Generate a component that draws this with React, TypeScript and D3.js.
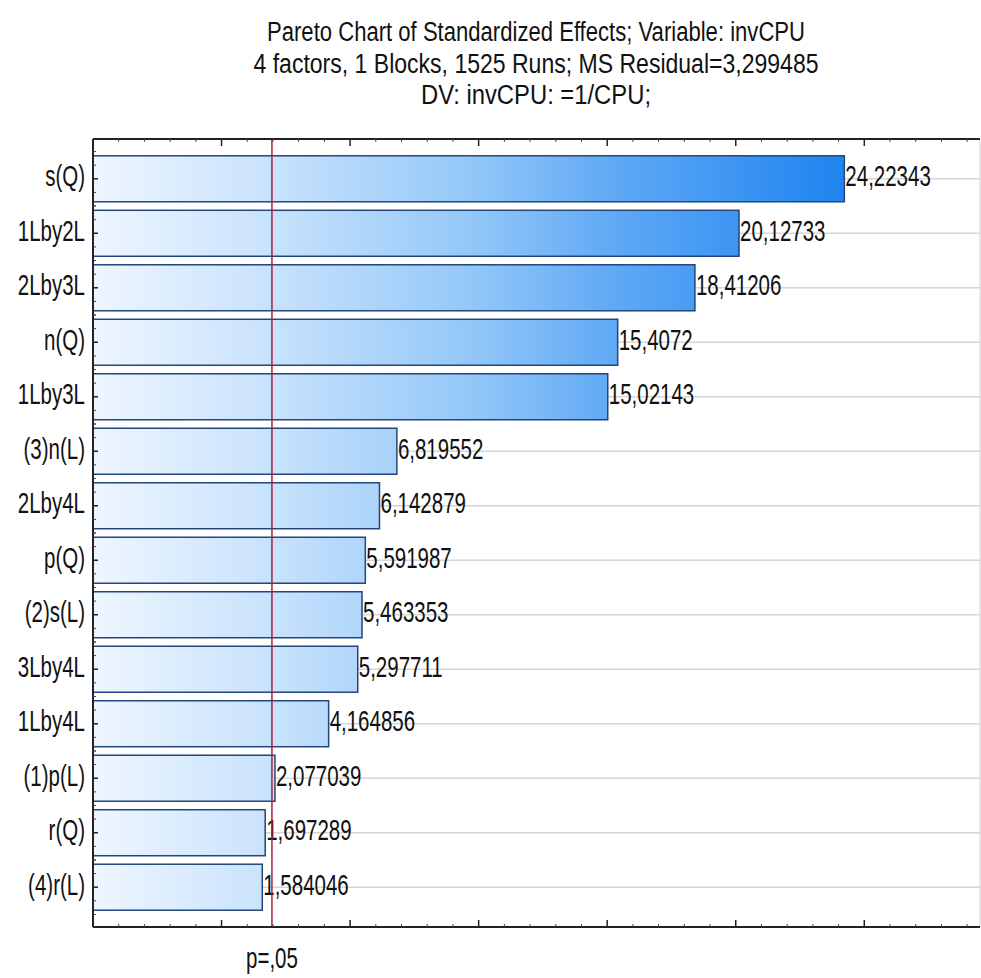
import React from "react";
import * as d3 from "d3";

const titleLines = [
  "Pareto Chart of Standardized Effects; Variable: invCPU",
  "4 factors, 1 Blocks, 1525 Runs; MS Residual=3,299485",
  "DV: invCPU: =1/CPU;",
];
const categories = [
  "s(Q)", "1Lby2L", "2Lby3L", "n(Q)", "1Lby3L", "(3)n(L)", "2Lby4L",
  "p(Q)", "(2)s(L)", "3Lby4L", "1Lby4L", "(1)p(L)", "r(Q)", "(4)r(L)",
];
const values = [
  24.22343, 20.12733, 18.41206, 15.4072, 15.02143, 6.819552, 6.142879,
  5.591987, 5.463353, 5.297711, 4.164856, 2.077039, 1.697289, 1.584046,
];
const valueLabels = [
  "24,22343", "20,12733", "18,41206", "15,4072", "15,02143", "6,819552", "6,142879",
  "5,591987", "5,463353", "5,297711", "4,164856", "2,077039", "1,697289", "1,584046",
];
const xDomain = [-5, 29.5];
const pCritical = 1.96;
const pLabel = "p=,05";

const W = 981, H = 978;
const L = 93, R = 980, T = 139, B = 927;
const FONT = "'Liberation Sans', Arial, sans-serif";
const SY = 1.45;

export default function App() {
  const x = d3.scaleLinear().domain(xDomain).range([L, R]);
  const y = d3.scaleBand().domain(categories).range([T, B]).paddingInner(0.156).paddingOuter(0.308);
  const step = y.step();
  const bw = y.bandwidth();

  const majorX = d3.range(0, 30, 5);
  const minorX = d3.range(-4, 30, 1).filter((v) => v % 5 !== 0);
  const minorY: number[] = [];
  categories.forEach((c) => {
    const cy = y(c)! + bw / 2;
    [-0.5, -0.25, 0.25, 0.5].forEach((f) => minorY.push(cy + f * step));
  });

  const textT = (tx: number, ty: number) => `translate(${tx},${ty}) scale(1,${SY})`;

  return (
    <svg width={W} height={H} style={{ position: "absolute", left: 0, top: 0, background: "#fff" }}>
      <defs>
        <linearGradient id="barGrad" gradientUnits="userSpaceOnUse" x1={L} y1={0} x2={x(values[0])} y2={0}>
          <stop offset="0" stopColor="#eef6ff" />
          <stop offset="0.25" stopColor="#c6e1fc" />
          <stop offset="0.5" stopColor="#94c8f8" />
          <stop offset="0.7" stopColor="#5ea8f5" />
          <stop offset="1" stopColor="#1e84f0" />
        </linearGradient>
      </defs>
      {titleLines.map((t, i) => (
        <text key={i} x={0} y={0} transform={`translate(536,${41 + i * 31.5}) scale(1,1.42)`}
          textAnchor="middle" fontFamily={FONT} fontSize={19} fill="#111"
          textLength={[538, 565, 230][i]} lengthAdjust="spacingAndGlyphs">{t}</text>
      ))}
      {categories.map((c) => (
        <line key={c} x1={L} x2={R} y1={y(c)! + bw / 2} y2={y(c)! + bw / 2} stroke="#d6d6d6" strokeWidth={1.5} />
      ))}
      {categories.map((c, i) => (
        <rect key={c} x={x(xDomain[0])} y={y(c)!} width={x(values[i]) - x(xDomain[0])} height={bw}
          fill="url(#barGrad)" stroke="#23467c" strokeWidth={1.5} />
      ))}
      {categories.map((c, i) => (
        <text key={c} x={0} y={0} transform={textT(x(values[i]) + 1, y(c)! + bw / 2 + 7.5)}
          fontFamily={FONT} fontSize={20.5} fill="#111">{valueLabels[i]}</text>
      ))}
      {categories.map((c) => (
        <text key={c} x={0} y={0} transform={textT(85, y(c)! + bw / 2 + 7.5)} textAnchor="end"
          fontFamily={FONT} fontSize={20.5} fill="#111">{c}</text>
      ))}
      <line x1={x(pCritical)} x2={x(pCritical)} y1={T} y2={B} stroke="#a8223a" strokeWidth={1.5} />
      <text x={0} y={0} transform={textT(x(pCritical), 968)} textAnchor="middle" fontFamily={FONT}
        fontSize={20.5} fill="#111">{pLabel}</text>
      <line x1={R} x2={R} y1={T} y2={B} stroke="#d0d0d0" strokeWidth={1} />
      <line x1={L} x2={R} y1={T} y2={T} stroke="#222" strokeWidth={2} />
      <line x1={L} x2={R} y1={B} y2={B} stroke="#222" strokeWidth={2} />
      <line x1={L} x2={L} y1={T} y2={B} stroke="#222" strokeWidth={2} />
      {majorX.map((v) => (
        <g key={v}>
          <line x1={x(v)} x2={x(v)} y1={T} y2={T + 7} stroke="#222" strokeWidth={1.5} />
          <line x1={x(v)} x2={x(v)} y1={B} y2={B - 7} stroke="#222" strokeWidth={1.5} />
        </g>
      ))}
      {minorX.map((v) => (
        <g key={v}>
          <line x1={x(v)} x2={x(v)} y1={T} y2={T + 3} stroke="#444" strokeWidth={1} />
          <line x1={x(v)} x2={x(v)} y1={B} y2={B - 3} stroke="#444" strokeWidth={1} />
        </g>
      ))}
      {categories.map((c) => (
        <line key={c} x1={L} x2={L + 5} y1={y(c)! + bw / 2} y2={y(c)! + bw / 2} stroke="#222" strokeWidth={1.5} />
      ))}
      {minorY.map((v, i) => (
        <line key={i} x1={L} x2={L + 3} y1={v} y2={v} stroke="#444" strokeWidth={1} />
      ))}
    </svg>
  );
}
